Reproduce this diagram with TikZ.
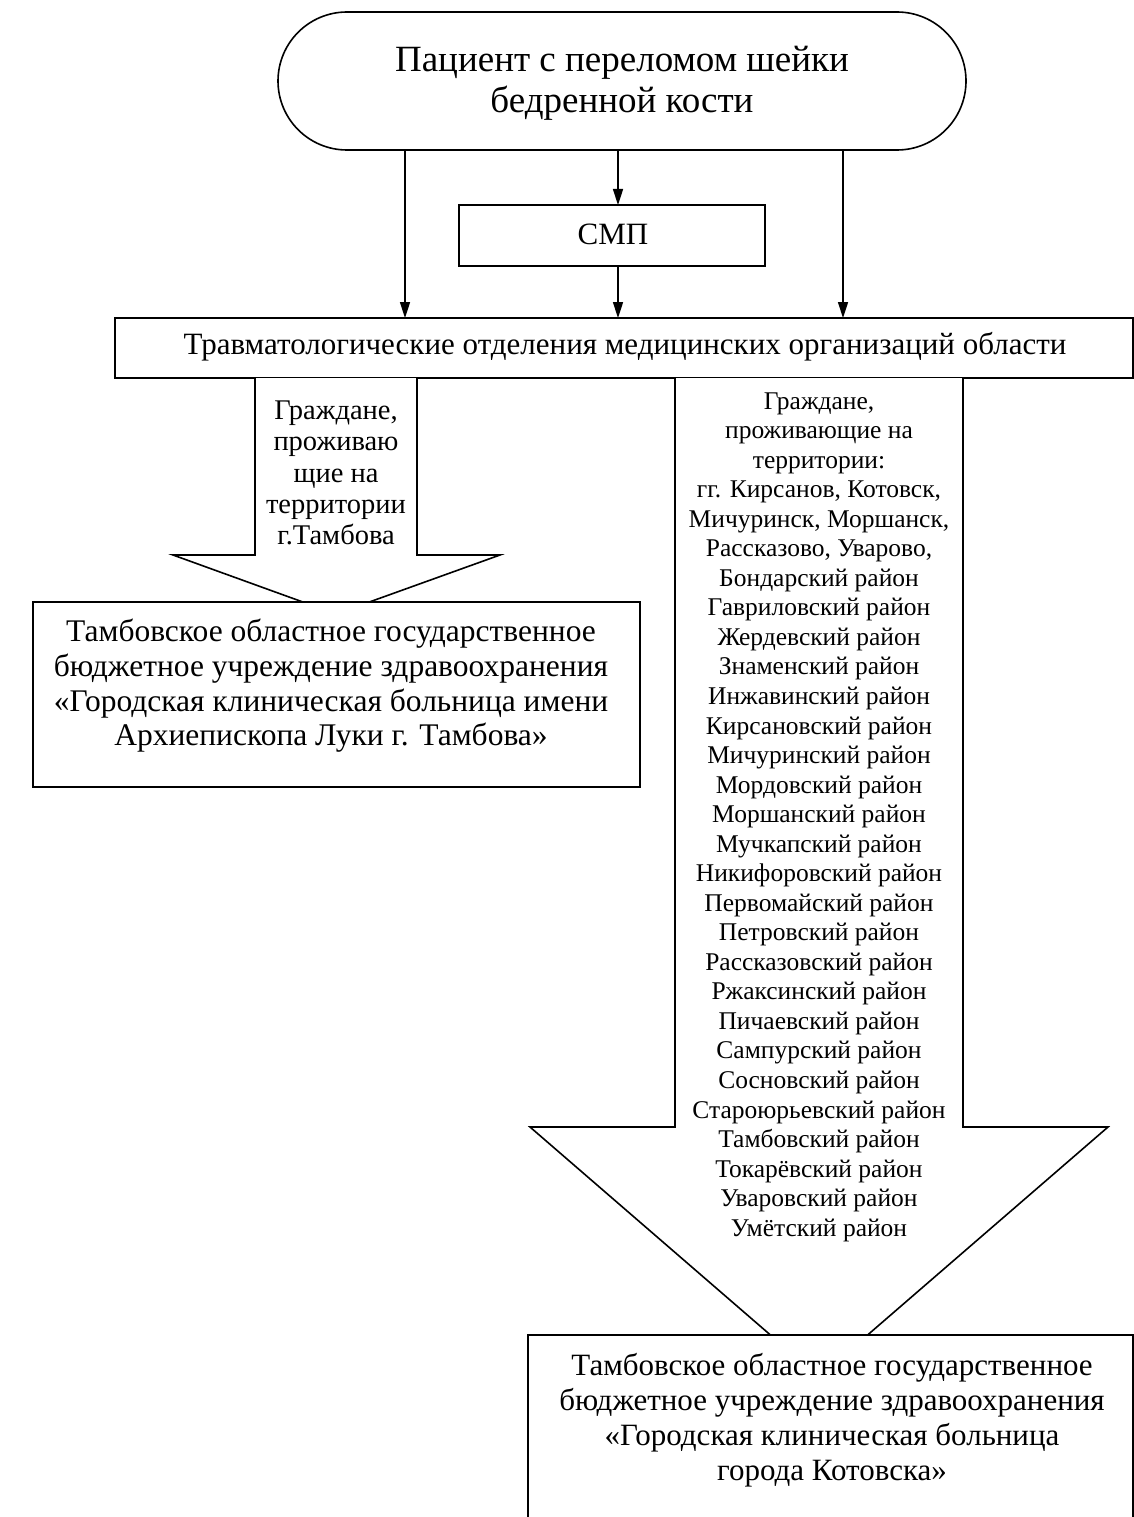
\documentclass[tikz,border=0pt]{standalone}
\usepackage{fontspec}
\setmainfont{Liberation Serif}
\usetikzlibrary{arrows.meta}
\begin{document}
\begin{tikzpicture}[x=1pt,y=-1pt,
  lw/.style={line width=1.6pt},
  box/.style={draw,lw,fill=white,rectangle,inner sep=0pt},
  conn/.style={lw,-{Triangle[length=16pt,width=10pt]}},
  blockarrow/.style={draw,lw,fill=white,line join=miter},
  txt/.style={align=center,inner sep=0pt}]
\useasboundingbox (0,0) rectangle (1134,1517);
% top stadium
\node[box,rounded corners=69pt,minimum width=688pt,minimum height=138pt] (pat) at (622,81) {};
\node[txt,font=\fontsize{37}{41}\selectfont] (pattxt) at (622,83) {Пациент с переломом шейки\\бедренной кости};
% SMP
\node[box,minimum width=306pt,minimum height=61pt] (smp) at (612,235.5) {};
\node[txt,font=\fontsize{31}{32}\selectfont] (smptxt) at (613,234) {СМП};
% Trauma
\node[box,minimum width=1018pt,minimum height=60pt] (tr) at (624,348) {};
\node[txt,font=\fontsize{31}{32}\selectfont] (trtxt) at (625,347) {Травматологические отделения медицинских организаций области};
% connectors
\coordinate (pL) at (405,150); \coordinate (pM) at (618,150); \coordinate (pR) at (843,150);
\coordinate (tL) at (405,318); \coordinate (tR) at (843,318);
\coordinate (sT) at (618,205); \coordinate (sB) at (618,266); \coordinate (tM) at (618,318);
\draw[conn] (pL) -- (tL);
\draw[conn] (pM) -- (sT);
\draw[conn] (sB) -- (tM);
\draw[conn] (pR) -- (tR);
% left block arrow
\draw[blockarrow] (255,378) -- (255,555) -- (173,555) -- (336,614) -- (500,555) -- (417,555) -- (417,378);
\node[txt,font=\fontsize{28.5}{31.3}\selectfont] (ltxt) at (336,473) {Граждане,\\проживаю\\щие на\\территории\\г.Тамбова};
% right block arrow
\draw[blockarrow] (675,378) -- (675,1127) -- (530,1127) -- (819,1377) -- (1108,1127) -- (963,1127) -- (963,378);
\node[txt,font=\fontsize{25.5}{29.54}\selectfont] (rtxt) at (819,817) {Граждане,\\проживающие на\\территории:\\гг. Кирсанов, Котовск,\\Мичуринск, Моршанск,\\Рассказово, Уварово,\\Бондарский район\\Гавриловский район\\Жердевский район\\Знаменский район\\Инжавинский район\\Кирсановский район\\Мичуринский район\\Мордовский район\\Моршанский район\\Мучкапский район\\Никифоровский район\\Первомайский район\\Петровский район\\Рассказовский район\\Ржаксинский район\\Пичаевский район\\Сампурский район\\Сосновский район\\Староюрьевский район\\Тамбовский район\\Токарёвский район\\Уваровский район\\Умётский район};
% left hospital box
\node[box,minimum width=607pt,minimum height=185pt] (lh) at (336.5,694.5) {};
\node[txt,font=\fontsize{31.5}{34.7}\selectfont] (lhtxt) at (331,686) {Тамбовское областное государственное\\бюджетное учреждение здравоохранения\\«Городская клиническая больница имени\\Архиепископа Луки г. Тамбова»};
% right hospital box
\node[box,minimum width=605pt,minimum height=220pt] (rh) at (830.5,1445) {};
\node[txt,font=\fontsize{31}{35}\selectfont] (rhtxt) at (832,1420.5) {Тамбовское областное государственное\\бюджетное учреждение здравоохранения\\«Городская клиническая больница\\города Котовска»};
\end{tikzpicture}
\end{document}
